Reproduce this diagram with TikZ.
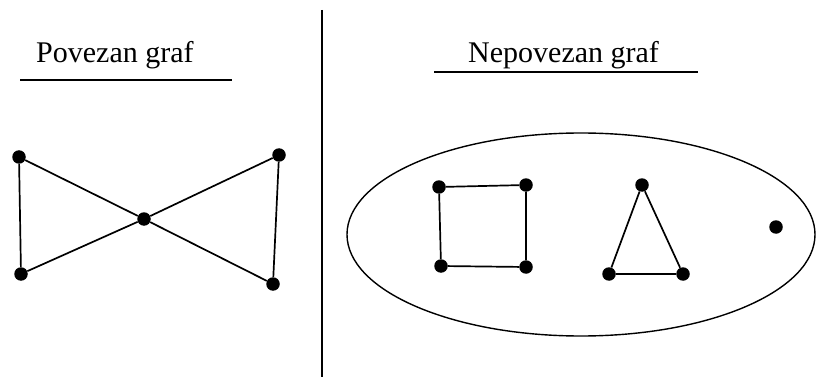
\documentclass[tikz,border=0pt]{standalone}
\usepackage{fontspec}
\setmainfont{Liberation Serif}
\usepackage{tikz}
\usetikzlibrary{positioning,shapes.geometric}

\begin{document}
\begin{tikzpicture}[x=1pt, y=-1pt,
  vert/.style={circle, fill=black, inner sep=0pt, minimum size=13.5pt},
  edge/.style={line width=1.7pt},
  title/.style={font=\fontsize{30}{36}\selectfont, inner sep=0pt, anchor=base west}]

\useasboundingbox (0,0) rectangle (822,377);

% Titles
\node[title] (tleft) at (36,63) {Povezan graf};
\node[title] (tright) at (468,63) {Nepovezan graf};
\draw[line width=1.6pt] (20,80) -- (232,80);
\draw[line width=1.6pt] (434,72) -- (698,72);

% Divider
\draw[line width=1.6pt] (322,10) -- (322,377);

% Connected graph
\node[vert] (a) at (19,157) {};
\node[vert] (b) at (21,274) {};
\node[vert] (c) at (144,219) {};
\node[vert] (d) at (279,155) {};
\node[vert] (e) at (273,284) {};

\draw[edge] (a) -- (b);
\draw[edge] (a) -- (c) -- (e);
\draw[edge] (b) -- (c) -- (d);
\draw[edge] (d) -- (e);

% Disconnected graph
\node[draw, ellipse, line width=1.4pt, minimum width=468pt, minimum height=203pt, inner sep=0pt] (oval) at (581,234.5) {};

\node[vert] (s1) at (439,187) {};
\node[vert] (s2) at (526,185) {};
\node[vert] (s3) at (441,266) {};
\node[vert] (s4) at (526,267) {};
\draw[edge] (s1) -- (s2) -- (s4) -- (s3) -- (s1);

\node[vert] (t1) at (642,185) {};
\node[vert] (t2) at (609,274) {};
\node[vert] (t3) at (683,274) {};
\draw[edge] (t1) -- (t2) -- (t3) -- (t1);

\node[vert] (iso) at (776,227) {};

\end{tikzpicture}
\end{document}
